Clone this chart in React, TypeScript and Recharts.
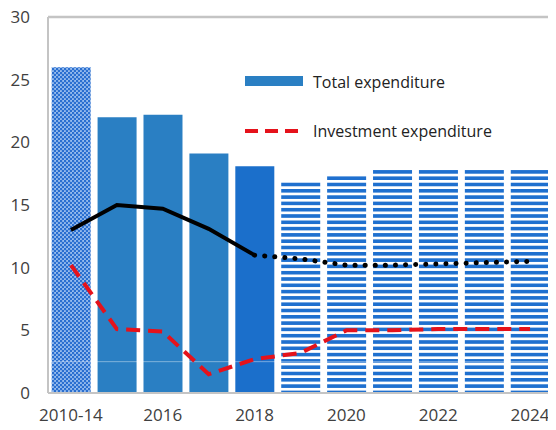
import {
  ComposedChart,
  Bar,
  Cell,
  Line,
  XAxis,
  YAxis,
  ReferenceLine,
} from "recharts";

const years = ["2010-14", "2015", "2016", "2017", "2018", "2019", "2020", "2021", "2022", "2023", "2024"];
const totalExp = [26.0, 22.0, 22.2, 19.1, 18.1, 16.9, 17.4, 17.8, 17.8, 17.8, 17.8];
const otherActual = [13.0, 15.0, 14.7, 13.1, 11.0, null, null, null, null, null, null];
const otherProj = [null, null, null, null, 11.0, 10.7, 10.2, 10.2, 10.3, 10.4, 10.5];
const investExp = [10.2, 5.1, 4.9, 1.5, 2.7, 3.2, 5.0, 5.0, 5.1, 5.1, 5.1];
const yTicks = [0, 5, 10, 15, 20, 25, 30];

const barFills = [
  "url(#crossFill)",
  "#2a7fc3",
  "#2a7fc3",
  "#2a7fc3",
  "#1b6fcb",
  "url(#stripeFill)",
  "url(#stripeFill)",
  "url(#stripeFill)",
  "url(#stripeFill)",
  "url(#stripeFill)",
  "url(#stripeFill)",
];

const data = years.map((y, i) => ({
  year: y,
  total: totalExp[i],
  actual: otherActual[i],
  proj: otherProj[i],
  invest: investExp[i],
}));

const FONT = "'Open Sans', 'Noto Sans', sans-serif";
const AXIS = "#c4c4c4";

function LegendBox() {
  return (
    <svg width={290} height={80} style={{ position: "absolute", top: 70, left: 243 }}>
      <rect x={2} y={6} width={58} height={10} fill="#2a7fc3" />
      <text x={70} y={18} fontSize={16} fill="#222" fontFamily={FONT}>
        Total expenditure
      </text>
      <line x1={2} y1={61} x2={60} y2={61} stroke="#e5121b" strokeWidth={4} strokeDasharray="13 7" />
      <text x={70} y={67} fontSize={16} fill="#222" fontFamily={FONT}>
        Investment expenditure
      </text>
    </svg>
  );
}

export default function App() {
  return (
    <div style={{ position: "relative", margin: "-8px 0 0 -8px", width: 556, height: 430, background: "#fff" }}>
      <svg width={0} height={0} style={{ position: "absolute" }}>
        <defs>
          <pattern id="stripeFill" patternUnits="userSpaceOnUse" width={10} height={6.3}>
            <rect x={0} y={0} width={10} height={6.3} fill="#ffffff" />
            <rect x={0} y={0} width={10} height={3.6} fill="#1f70cf" />
          </pattern>
          <pattern id="crossFill" patternUnits="userSpaceOnUse" width={4} height={4}>
            <rect x={0} y={0} width={4} height={4} fill="#98bdee" />
            <circle cx={1} cy={1} r={1.3} fill="#2a6fd0" />
            <circle cx={3} cy={3} r={1.3} fill="#2a6fd0" />
          </pattern>
        </defs>
      </svg>
      <ComposedChart
        width={556}
        height={430}
        data={data}
        margin={{ top: 17, right: 3, bottom: 0, left: 0 }}
        barCategoryGap="8%"
      >
        <XAxis
          dataKey="year"
          interval={1}
          height={37}
          tickLine={false}
          tickSize={6}
          tickMargin={10}
          axisLine={{ stroke: AXIS, strokeWidth: 2 }}
          tick={{ fontSize: 17, fill: "#404040", fontFamily: FONT }}
        />
        <YAxis
          domain={[0, 30]}
          ticks={yTicks}
          width={48}
          tickLine={false}
          tickSize={6}
          tickMargin={12}
          axisLine={{ stroke: AXIS, strokeWidth: 2 }}
          tick={{ fontSize: 17, fill: "#404040", fontFamily: FONT }}
        />
        <Bar dataKey="total" isAnimationActive={false}>
          {data.map((_, i) => (
            <Cell key={i} fill={barFills[i]} />
          ))}
        </Bar>
        <ReferenceLine y={2.5} stroke="rgba(255,255,255,0.4)" strokeWidth={1} />
        <Line
          dataKey="actual"
          stroke="#000"
          strokeWidth={4}
          dot={false}
          isAnimationActive={false}
        />
        <Line
          dataKey="proj"
          stroke="#000"
          strokeWidth={5}
          strokeDasharray="0.1 10"
          strokeLinecap="round"
          dot={false}
          isAnimationActive={false}
        />
        <Line
          dataKey="invest"
          stroke="#e5121b"
          strokeWidth={4}
          strokeDasharray="14 8"
          dot={false}
          isAnimationActive={false}
        />
      </ComposedChart>
      {/* plot frame, top and right edges */}
      <svg width={556} height={430} style={{ position: "absolute", left: 0, top: 0, pointerEvents: "none" }}>
        <polyline points="48,17 553,17 553,393" fill="none" stroke={AXIS} strokeWidth={2.5} />
      </svg>
      <LegendBox />
    </div>
  );
}
